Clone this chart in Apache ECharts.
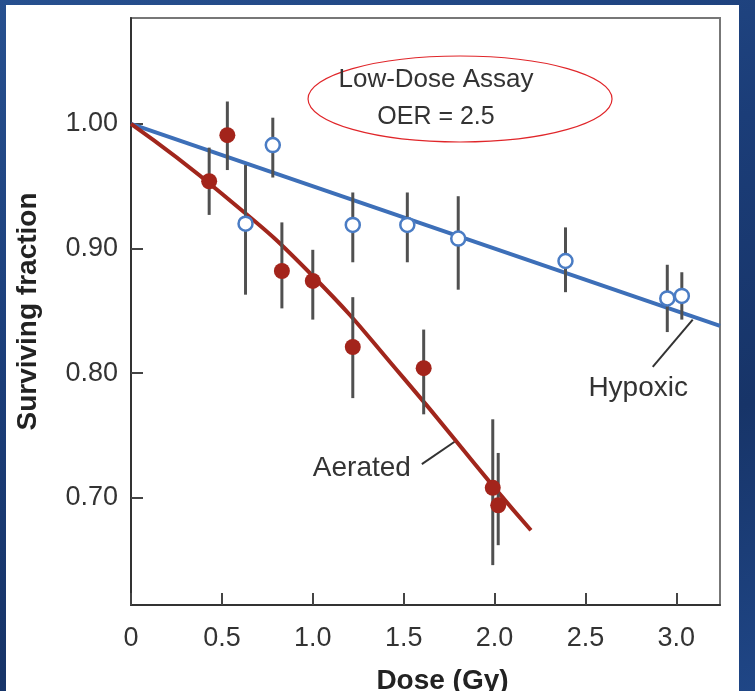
<!DOCTYPE html>
<html><head><meta charset="utf-8">
<script src="https://cdn.jsdelivr.net/npm/echarts@6/dist/echarts.min.js"></script>
<style>
html,body{margin:0;padding:0;width:755px;height:691px;overflow:hidden;
background:linear-gradient(160deg,#27508f 0%,#1b3d78 40%,#173468 70%,#1f4686 100%);}
#panel{position:absolute;left:6px;top:5px;width:733px;height:686px;background:#fff;}
#c{position:absolute;left:0;top:0;width:755px;height:691px;}
</style></head>
<body><div id="panel"></div><div id="c"></div>
<script>
// Data
const xTicks = [0, 0.5, 1.0, 1.5, 2.0, 2.5, 3.0];
const xTickLabels = ['0', '0.5', '1.0', '1.5', '2.0', '2.5', '3.0'];
const yTicks = [0.7, 0.8, 0.9, 1.0];
const yTickLabels = ['0.70', '0.80', '0.90', '1.00'];

// Aerated: dose, surviving fraction, error low, error high
const aeratedDose = [0.43, 0.53, 0.83, 1.00, 1.22, 1.61, 1.99, 2.02];
const aeratedSF   = [0.954, 0.991, 0.882, 0.874, 0.821, 0.804, 0.708, 0.694];
const aeratedLow  = [0.927, 0.963, 0.852, 0.843, 0.780, 0.767, 0.646, 0.662];
const aeratedHigh = [0.981, 1.018, 0.921, 0.899, 0.861, 0.835, 0.763, 0.736];

const hypoxicDose = [0.63, 0.78, 1.22, 1.52, 1.80, 2.39, 2.95, 3.03];
const hypoxicSF   = [0.920, 0.983, 0.919, 0.919, 0.908, 0.890, 0.860, 0.862];
const hypoxicLow  = [0.863, 0.957, 0.889, 0.889, 0.867, 0.865, 0.833, 0.843];
const hypoxicHigh = [0.967, 1.005, 0.945, 0.945, 0.942, 0.917, 0.887, 0.881];

// Fitted curves
const aeratedFitDose = [0, 0.5, 1.0, 1.5, 2.0, 2.2];
const aeratedFitSF   = [1.0, 0.944, 0.878, 0.796, 0.708, 0.674];
const hypoxicFitDose = [0, 3.24];
const hypoxicFitSF   = [1.0, 0.838];

const X_MIN = 0, X_MAX = 3.24, Y_MIN = 0.614, Y_MAX = 1.085;

const zip = (a, b) => a.map((v, i) => [v, b[i]]);
const errData = (d, lo, hi) => d.map((v, i) => [v, lo[i], hi[i]]);

const chart = echarts.init(document.getElementById('c'), null, {renderer: 'canvas'});
const FONT = "'Liberation Sans', Arial, Helvetica, sans-serif";

function errRender(params, api) {
  const x = api.value(0);
  const p1 = api.coord([x, api.value(1)]);
  const p2 = api.coord([x, api.value(2)]);
  return {type: 'line', shape: {x1: p1[0], y1: p1[1], x2: p2[0], y2: p2[1]},
    style: {stroke: '#505050', lineWidth: 3}};
}

const option = {
  backgroundColor: 'transparent',
  animation: false,
  grid: {left: 131, top: 18, right: 35, bottom: 86, show: true, borderColor: '#777', borderWidth: 2,
    backgroundColor: 'transparent', outerBoundsMode: 'none', containLabel: false},
  xAxis: {
    type: 'value', min: X_MIN, max: X_MAX,
    name: 'Dose (Gy)', nameLocation: 'middle', nameGap: 62,
    nameTextStyle: {fontFamily: FONT, fontSize: 28, fontWeight: 'bold', color: '#222', padding: [0, 0, 0, 34]},
    axisLine: {show: true, onZero: false, lineStyle: {color: '#333', width: 2}},
    axisTick: {show: true, inside: true, length: 12, customValues: xTicks, lineStyle: {color: '#444', width: 2}},
    axisLabel: {customValues: xTicks, formatter: v => xTickLabels[xTicks.findIndex(t => Math.abs(t - v) < 1e-6)] ?? '',
      fontFamily: FONT, fontSize: 27, color: '#333', margin: 20},
    splitLine: {show: false}
  },
  yAxis: {
    type: 'value', min: Y_MIN, max: Y_MAX,
    name: 'Surviving fraction', nameLocation: 'middle', nameGap: 89, nameRotate: 90,
    nameTextStyle: {fontFamily: FONT, fontSize: 28, fontWeight: 'bold', color: '#222'},
    axisLine: {show: true, onZero: false, lineStyle: {color: '#333', width: 2}},
    axisTick: {show: true, inside: true, length: 12, customValues: yTicks, lineStyle: {color: '#444', width: 2}},
    axisLabel: {customValues: yTicks, formatter: v => yTickLabels[yTicks.findIndex(t => Math.abs(t - v) < 1e-6)] ?? '',
      fontFamily: FONT, fontSize: 27, color: '#333', margin: 13},
    splitLine: {show: false}
  },
  series: [
    {type: 'line', data: zip(hypoxicFitDose, hypoxicFitSF), symbol: 'none', lineStyle: {color: '#3d6fb8', width: 4}, z: 2},
    {type: 'line', data: zip(aeratedFitDose, aeratedFitSF), symbol: 'none', smooth: true, lineStyle: {color: '#a1261c', width: 4}, z: 2},
    {type: 'custom', data: errData(aeratedDose, aeratedLow, aeratedHigh), renderItem: errRender, z: 3},
    {type: 'custom', data: errData(hypoxicDose, hypoxicLow, hypoxicHigh), renderItem: errRender, z: 3},
    {type: 'scatter', data: zip(aeratedDose, aeratedSF), symbol: 'circle', symbolSize: 16,
      itemStyle: {color: '#a3241b', opacity: 1}, z: 5},
    {type: 'scatter', data: zip(hypoxicDose, hypoxicSF), symbol: 'circle', symbolSize: 14,
      itemStyle: {color: '#fff', borderColor: '#4a7cc4', borderWidth: 2.5, opacity: 1}, z: 5}
  ]
};
chart.setOption(option);

const P = (x, y) => chart.convertToPixel({gridIndex: 0}, [x, y]);
const hypLbl = P(2.79, 0.788);
const aerLbl = P(1.27, 0.724);
const hl1 = P(2.87, 0.805), hl2 = P(3.09, 0.843);
const al1 = P(1.6, 0.727), al2 = P(1.78, 0.745);
const ell = P(1.81, 1.02);
chart.setOption({
  graphic: [
    {type: 'text', x: hypLbl[0], y: hypLbl[1], style: {text: 'Hypoxic', fontFamily: FONT, fontSize: 28, fill: '#333', align: 'center', verticalAlign: 'middle'}},
    {type: 'text', x: aerLbl[0], y: aerLbl[1], style: {text: 'Aerated', fontFamily: FONT, fontSize: 28, fill: '#333', align: 'center', verticalAlign: 'middle'}},
    {type: 'line', shape: {x1: hl1[0], y1: hl1[1], x2: hl2[0], y2: hl2[1]}, style: {stroke: '#333', lineWidth: 2}},
    {type: 'line', shape: {x1: al1[0], y1: al1[1], x2: al2[0], y2: al2[1]}, style: {stroke: '#333', lineWidth: 2}},
    {type: 'ellipse', shape: {cx: ell[0], cy: ell[1], rx: 152, ry: 43}, style: {fill: 'none', stroke: '#e0262a', lineWidth: 1.2}},
    {type: 'text', x: 436, y: 80, style: {text: 'Low-Dose Assay', fontFamily: FONT, fontSize: 26, fill: '#333', align: 'center', verticalAlign: 'middle'}},
    {type: 'text', x: 436, y: 117, style: {text: 'OER = 2.5', fontFamily: FONT, fontSize: 25, fill: '#333', align: 'center', verticalAlign: 'middle'}}
  ]
});
</script></body></html>
